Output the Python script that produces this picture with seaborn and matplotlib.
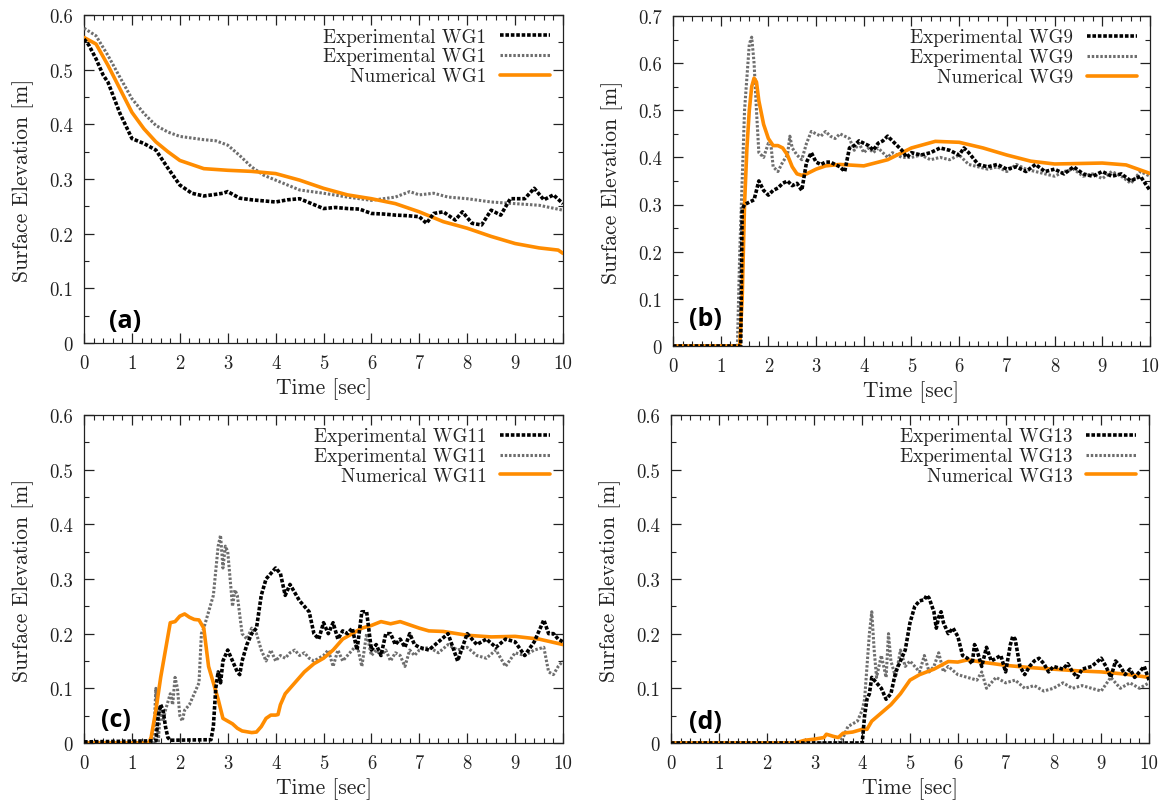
import matplotlib
matplotlib.use("Agg")
import matplotlib.pyplot as plt
from matplotlib.ticker import MultipleLocator, FixedLocator, FixedFormatter
import seaborn as sns
import pandas as pd

# ---------------- data ----------------
# (a) WG1
t_a_exp1 = [0, 0.1, 0.25, 0.4, 0.5, 0.75, 1.0, 1.25, 1.5, 1.75, 2.0, 2.25, 2.5, 2.75, 2.9, 3.0, 3.25, 3.5,
            3.75, 4.0, 4.25, 4.5, 4.75, 5.0, 5.25, 5.5, 5.75, 6.0, 6.25, 6.5, 6.75, 7.0, 7.15, 7.3, 7.5,
            7.75, 7.9, 8.1, 8.3, 8.5, 8.7, 8.9, 9.2, 9.4, 9.6, 9.8, 10.0]
y_a_exp1 = [0.556, 0.545, 0.52, 0.49, 0.477, 0.42, 0.374, 0.365, 0.353, 0.32, 0.289, 0.274, 0.269, 0.272,
            0.274, 0.277, 0.265, 0.262, 0.26, 0.258, 0.262, 0.264, 0.255, 0.246, 0.248, 0.246, 0.245, 0.237,
            0.236, 0.234, 0.233, 0.231, 0.219, 0.237, 0.24, 0.225, 0.24, 0.219, 0.216, 0.243, 0.234, 0.264,
            0.264, 0.283, 0.262, 0.271, 0.255]
t_a_exp2 = [0, 0.25, 0.5, 0.75, 1.0, 1.25, 1.5, 1.75, 2.0, 2.5, 2.75, 3.0, 3.25, 3.5, 3.75, 4.0, 4.5, 5.0,
            5.5, 6.0, 6.5, 6.8, 7.0, 7.3, 7.6, 8.0, 8.5, 9.0, 9.5, 10.0]
y_a_exp2 = [0.576, 0.562, 0.526, 0.486, 0.447, 0.42, 0.398, 0.386, 0.378, 0.372, 0.37, 0.362, 0.343, 0.322,
            0.307, 0.298, 0.28, 0.274, 0.267, 0.261, 0.267, 0.277, 0.271, 0.274, 0.267, 0.264, 0.258, 0.255,
            0.252, 0.243]
t_a_num = [0, 0.25, 0.5, 0.75, 1.0, 1.25, 1.5, 1.75, 2.0, 2.5, 3.0, 3.5, 4.0, 4.5, 5.0, 5.5, 6.0, 6.5, 7.0,
           7.5, 8.0, 8.5, 9.0, 9.5, 9.9, 10.0]
y_a_num = [0.559, 0.547, 0.508, 0.465, 0.422, 0.392, 0.368, 0.35, 0.334, 0.319, 0.316, 0.314, 0.31, 0.298,
           0.283, 0.271, 0.264, 0.255, 0.24, 0.222, 0.21, 0.195, 0.182, 0.174, 0.17, 0.164]

# (b) WG9
t_b_exp1 = [0, 1.42, 1.45, 1.5, 1.6, 1.7, 1.8, 1.9, 2.0, 2.1, 2.2, 2.3, 2.4, 2.5, 2.6, 2.7, 2.8, 2.9, 3.0,
            3.1, 3.2, 3.3, 3.4, 3.5, 3.6, 3.7, 3.8, 3.9, 4.0, 4.1, 4.2, 4.3, 4.4, 4.5, 4.6, 4.7, 4.8, 4.9,
            5.0, 5.2, 5.4, 5.6, 5.8, 6.0, 6.1, 6.2, 6.4, 6.6, 6.8, 7.0, 7.2, 7.4, 7.6, 7.8, 8.0, 8.2, 8.4,
            8.6, 8.8, 9.0, 9.2, 9.4, 9.6, 9.8, 10.0]
y_b_exp1 = [0, 0, 0.29, 0.30, 0.305, 0.31, 0.35, 0.33, 0.32, 0.33, 0.335, 0.345, 0.35, 0.34, 0.345, 0.33,
            0.39, 0.41, 0.39, 0.385, 0.39, 0.39, 0.385, 0.38, 0.37, 0.42, 0.425, 0.435, 0.43, 0.425, 0.415,
            0.43, 0.435, 0.445, 0.435, 0.425, 0.415, 0.40, 0.41, 0.405, 0.41, 0.42, 0.415, 0.405, 0.42, 0.41,
            0.385, 0.38, 0.385, 0.375, 0.38, 0.37, 0.385, 0.37, 0.375, 0.365, 0.38, 0.365, 0.36, 0.37, 0.36,
            0.365, 0.35, 0.36, 0.33]
t_b_exp2 = [0, 1.35, 1.4, 1.5, 1.6, 1.65, 1.7, 1.75, 1.8, 1.9, 2.0, 2.05, 2.1, 2.2, 2.3, 2.4, 2.45, 2.5,
            2.6, 2.7, 2.8, 2.9, 3.0, 3.1, 3.2, 3.3, 3.4, 3.5, 3.6, 3.7, 3.8, 3.9, 4.0, 4.1, 4.2, 4.3, 4.4,
            4.5, 4.6, 4.8, 5.0, 5.2, 5.4, 5.6, 5.8, 6.0, 6.2, 6.4, 6.6, 6.8, 7.0, 7.2, 7.4, 7.6, 7.8, 8.0,
            8.2, 8.4, 8.6, 8.8, 9.0, 9.2, 9.4, 9.6, 9.8, 10.0]
y_b_exp2 = [0, 0, 0.2, 0.5, 0.64, 0.655, 0.6, 0.5, 0.41, 0.40, 0.43, 0.43, 0.38, 0.37, 0.39, 0.405, 0.445,
            0.42, 0.405, 0.395, 0.43, 0.455, 0.45, 0.445, 0.455, 0.445, 0.44, 0.45, 0.445, 0.44, 0.415, 0.43,
            0.41, 0.42, 0.41, 0.42, 0.41, 0.40, 0.41, 0.40, 0.40, 0.405, 0.395, 0.40, 0.395, 0.405, 0.385,
            0.38, 0.375, 0.38, 0.37, 0.385, 0.375, 0.37, 0.365, 0.36, 0.37, 0.375, 0.36, 0.365, 0.355, 0.37,
            0.36, 0.345, 0.37, 0.36]
t_b_num = [0, 1.4, 1.45, 1.5, 1.55, 1.6, 1.65, 1.7, 1.75, 1.8, 1.9, 2.0, 2.1, 2.2, 2.3, 2.4, 2.5, 2.6, 2.7,
           2.8, 3.0, 3.2, 3.5, 4.0, 4.5, 5.0, 5.5, 6.0, 6.5, 7.0, 7.5, 8.0, 8.5, 9.0, 9.5, 10.0]
y_b_num = [0, 0, 0.1, 0.3, 0.42, 0.5, 0.55, 0.568, 0.56, 0.52, 0.47, 0.44, 0.425, 0.425, 0.42, 0.405, 0.38,
           0.365, 0.362, 0.365, 0.375, 0.382, 0.385, 0.382, 0.395, 0.42, 0.434, 0.432, 0.42, 0.405, 0.392,
           0.386, 0.387, 0.388, 0.384, 0.366]

# (c) WG11
t_c_exp1 = [0, 1.5, 1.55, 1.6, 1.65, 1.7, 1.75, 1.8, 2.65, 2.7, 2.75, 2.8, 2.85, 2.9, 3.0, 3.05, 3.1, 3.2,
            3.25, 3.3, 3.4, 3.5, 3.6, 3.7, 3.8, 3.9, 4.0, 4.1, 4.2, 4.3, 4.4, 4.5, 4.6, 4.7, 4.8, 4.9, 5.0,
            5.1, 5.2, 5.3, 5.4, 5.5, 5.6, 5.7, 5.8, 5.9, 6.0, 6.1, 6.2, 6.3, 6.4, 6.5, 6.6, 6.7, 6.8, 6.9,
            7.0, 7.2, 7.4, 7.6, 7.8, 8.0, 8.2, 8.4, 8.6, 8.8, 9.0, 9.2, 9.4, 9.6, 9.7, 9.8, 9.9, 10.0]
y_c_exp1 = [0.002, 0.004, 0.05, 0.07, 0.06, 0.03, 0.01, 0.005, 0.006, 0.03, 0.10, 0.13, 0.11, 0.15, 0.17,
            0.16, 0.15, 0.13, 0.125, 0.15, 0.18, 0.20, 0.21, 0.27, 0.30, 0.31, 0.32, 0.31, 0.27, 0.29, 0.275,
            0.26, 0.25, 0.24, 0.20, 0.19, 0.22, 0.20, 0.22, 0.19, 0.205, 0.20, 0.21, 0.17, 0.24, 0.24, 0.17,
            0.18, 0.16, 0.20, 0.20, 0.18, 0.19, 0.175, 0.20, 0.18, 0.175, 0.17, 0.185, 0.20, 0.15, 0.20, 0.18,
            0.19, 0.175, 0.19, 0.185, 0.16, 0.185, 0.225, 0.20, 0.20, 0.19, 0.185]
t_c_exp2 = [0, 1.45, 1.5, 1.55, 1.6, 1.65, 1.7, 1.8, 1.85, 1.9, 1.95, 2.0, 2.05, 2.1, 2.2, 2.3, 2.4, 2.45,
            2.5, 2.6, 2.7, 2.8, 2.85, 2.9, 2.95, 3.0, 3.1, 3.15, 3.2, 3.3, 3.4, 3.5, 3.6, 3.7, 3.8, 3.9,
            4.0, 4.1, 4.2, 4.3, 4.4, 4.5, 4.6, 4.7, 4.8, 4.9, 5.0, 5.1, 5.2, 5.3, 5.4, 5.5, 5.6, 5.7, 5.8,
            5.9, 6.0, 6.1, 6.2, 6.3, 6.4, 6.5, 6.6, 6.7, 6.8, 6.9, 7.0, 7.2, 7.4, 7.6, 7.8, 8.0, 8.2, 8.4,
            8.6, 8.8, 9.0, 9.2, 9.4, 9.6, 9.7, 9.8, 9.9, 10.0]
y_c_exp2 = [0, 0, 0.10, 0.0, 0.07, 0.04, 0.06, 0.09, 0.07, 0.12, 0.10, 0.05, 0.04, 0.06, 0.07, 0.09, 0.11,
            0.20, 0.21, 0.24, 0.27, 0.36, 0.38, 0.32, 0.36, 0.35, 0.25, 0.28, 0.27, 0.20, 0.19, 0.21, 0.20,
            0.17, 0.15, 0.17, 0.15, 0.16, 0.155, 0.165, 0.17, 0.16, 0.165, 0.155, 0.15, 0.155, 0.16, 0.17,
            0.14, 0.17, 0.15, 0.16, 0.17, 0.18, 0.14, 0.20, 0.16, 0.17, 0.16, 0.17, 0.15, 0.165, 0.16, 0.14,
            0.17, 0.16, 0.17, 0.175, 0.165, 0.18, 0.17, 0.175, 0.16, 0.155, 0.17, 0.14, 0.165, 0.16, 0.17,
            0.175, 0.13, 0.125, 0.14, 0.15]
t_c_num = [0, 1.35, 1.4, 1.5, 1.6, 1.7, 1.8, 1.9, 2.0, 2.1, 2.2, 2.3, 2.4, 2.5, 2.6, 2.7, 2.8, 2.9, 3.0,
           3.1, 3.2, 3.3, 3.5, 3.6, 3.7, 3.8, 3.9, 4.0, 4.05, 4.1, 4.2, 4.4, 4.6, 4.8, 5.0, 5.2, 5.4, 5.6,
           5.8, 6.0, 6.2, 6.4, 6.6, 6.8, 7.0, 7.2, 7.5, 8.0, 8.5, 9.0, 9.5, 10.0]
y_c_num = [0, 0, 0.01, 0.06, 0.12, 0.17, 0.22, 0.222, 0.232, 0.236, 0.23, 0.226, 0.225, 0.21, 0.14, 0.11,
           0.08, 0.045, 0.04, 0.035, 0.027, 0.022, 0.019, 0.02, 0.03, 0.045, 0.051, 0.051, 0.052, 0.07, 0.09,
           0.11, 0.13, 0.145, 0.155, 0.17, 0.19, 0.20, 0.21, 0.215, 0.222, 0.218, 0.222, 0.216, 0.21, 0.205,
           0.204, 0.197, 0.194, 0.195, 0.19, 0.18]

# (d) WG13
t_d_exp1 = [0, 4.0, 4.05, 4.1, 4.15, 4.2, 4.3, 4.4, 4.5, 4.6, 4.7, 4.8, 4.9, 5.0, 5.1, 5.2, 5.3, 5.35, 5.4,
            5.5, 5.55, 5.6, 5.65, 5.7, 5.8, 5.9, 6.0, 6.1, 6.2, 6.3, 6.35, 6.4, 6.5, 6.6, 6.7, 6.8, 6.9, 7.0,
            7.1, 7.15, 7.2, 7.3, 7.4, 7.5, 7.6, 7.7, 7.8, 7.9, 8.0, 8.2, 8.3, 8.4, 8.5, 8.6, 8.8, 9.0, 9.1,
            9.2, 9.3, 9.4, 9.5, 9.6, 9.7, 9.8, 9.9, 10.0]
y_d_exp1 = [0, 0, 0.05, 0.08, 0.09, 0.12, 0.11, 0.10, 0.08, 0.09, 0.13, 0.15, 0.17, 0.22, 0.25, 0.26, 0.262,
            0.27, 0.265, 0.24, 0.21, 0.23, 0.24, 0.22, 0.20, 0.21, 0.195, 0.16, 0.155, 0.145, 0.18, 0.17,
            0.14, 0.175, 0.15, 0.155, 0.16, 0.13, 0.18, 0.195, 0.19, 0.14, 0.125, 0.14, 0.15, 0.155, 0.145,
            0.13, 0.14, 0.135, 0.145, 0.13, 0.12, 0.135, 0.14, 0.155, 0.14, 0.12, 0.15, 0.14, 0.125, 0.135,
            0.12, 0.13, 0.14, 0.115]
t_d_exp2 = [0, 3.5, 3.6, 3.7, 3.8, 3.9, 4.0, 4.05, 4.1, 4.15, 4.2, 4.25, 4.3, 4.4, 4.5, 4.55, 4.6, 4.7, 4.8,
            4.9, 5.0, 5.1, 5.2, 5.3, 5.4, 5.5, 5.6, 5.7, 5.8, 6.0, 6.2, 6.4, 6.5, 6.6, 6.8, 7.0, 7.2, 7.4,
            7.6, 7.8, 8.0, 8.2, 8.4, 8.6, 8.8, 9.0, 9.2, 9.4, 9.6, 9.8, 10.0]
y_d_exp2 = [0, 0, 0.01, 0.03, 0.035, 0.04, 0.06, 0.08, 0.14, 0.20, 0.24, 0.17, 0.12, 0.16, 0.12, 0.20, 0.15,
            0.12, 0.17, 0.14, 0.15, 0.14, 0.13, 0.16, 0.13, 0.14, 0.165, 0.13, 0.14, 0.125, 0.12, 0.115, 0.13,
            0.10, 0.12, 0.11, 0.115, 0.10, 0.105, 0.095, 0.10, 0.11, 0.10, 0.105, 0.10, 0.095, 0.12, 0.10,
            0.11, 0.10, 0.11]
t_d_num = [0, 2.6, 2.8, 3.0, 3.2, 3.25, 3.4, 3.5, 3.6, 3.8, 4.0, 4.1, 4.2, 4.4, 4.6, 4.8, 5.0, 5.2, 5.5,
           5.8, 6.0, 6.2, 6.5, 7.0, 7.5, 8.0, 8.5, 9.0, 9.5, 10.0]
y_d_num = [0, 0, 0.005, 0.007, 0.01, 0.016, 0.012, 0.01, 0.018, 0.02, 0.025, 0.025, 0.04, 0.055, 0.07, 0.09,
           0.115, 0.125, 0.135, 0.149, 0.148, 0.152, 0.148, 0.142, 0.138, 0.135, 0.132, 0.13, 0.126, 0.12]

panel_letters = ["(a)", "(b)", "(c)", "(d)"]
gauges = ["WG1", "WG9", "WG11", "WG13"]
y_max = [0.6, 0.7, 0.6, 0.6]
x_ticks = [0, 1, 2, 3, 4, 5, 6, 7, 8, 9, 10]
x_tick_labels = ["0", "1", "2", "3", "4", "5", "6", "7", "8", "9", "10"]
y_ticks = [0, 0.1, 0.2, 0.3, 0.4, 0.5, 0.6, 0.7]
y_tick_labels = ["0", "0.1", "0.2", "0.3", "0.4", "0.5", "0.6", "0.7"]

series = [
    (t_a_exp1, y_a_exp1, t_a_exp2, y_a_exp2, t_a_num, y_a_num),
    (t_b_exp1, y_b_exp1, t_b_exp2, y_b_exp2, t_b_num, y_b_num),
    (t_c_exp1, y_c_exp1, t_c_exp2, y_c_exp2, t_c_num, y_c_num),
    (t_d_exp1, y_d_exp1, t_d_exp2, y_d_exp2, t_d_num, y_d_num),
]

# ---------------- style ----------------
sns.set_style("ticks")
plt.rcParams["font.family"] = ["cmr10", "DejaVu Serif"]
plt.rcParams["axes.formatter.use_mathtext"] = True
plt.rcParams["font.size"] = 13.5

ORANGE = "#ff8c00"
INK = "#222222"

fig = plt.figure(figsize=(11.69, 8.03), dpi=100)
positions = [
    [0.0719, 0.5716, 0.4097, 0.4084],
    [0.5757, 0.5679, 0.4080, 0.4110],
    [0.0719, 0.0735, 0.4097, 0.4085],
    [0.5740, 0.0735, 0.4089, 0.4085],
]
letter_pos = [(0.086, 0.070), (0.067, 0.082), (0.067, 0.073), (0.071, 0.067)]

for i, pos in enumerate(positions):
    ax = fig.add_axes(pos)
    t1, v1, t2, v2, tn, vn = series[i]
    g = gauges[i]
    d1 = pd.DataFrame({"t": t1, "eta": v1})
    d2 = pd.DataFrame({"t": t2, "eta": v2})
    dn = pd.DataFrame({"t": tn, "eta": vn})

    sns.lineplot(data=d2, x="t", y="eta", ax=ax, color="#6e6e6e", lw=2.2,
                 linestyle=(0, (0.8, 0.6)), label=f"Experimental {g}", zorder=3, sort=False)
    sns.lineplot(data=dn, x="t", y="eta", ax=ax, color=ORANGE, lw=2.6,
                 label=f"Numerical {g}", zorder=4, sort=False)
    sns.lineplot(data=d1, x="t", y="eta", ax=ax, color="black", lw=2.6,
                 linestyle=(0, (1.0, 0.5)), label=f"Experimental {g}", zorder=5, sort=False)

    ax.set_xlim(0, 10)
    ax.set_ylim(0, y_max[i])
    n_y = int(round(y_max[i] / 0.1)) + 1
    ax.xaxis.set_major_locator(FixedLocator(x_ticks))
    ax.xaxis.set_major_formatter(FixedFormatter(x_tick_labels))
    ax.yaxis.set_major_locator(FixedLocator(y_ticks[:n_y]))
    ax.yaxis.set_major_formatter(FixedFormatter(y_tick_labels[:n_y]))
    ax.xaxis.set_minor_locator(MultipleLocator(0.2))
    ax.yaxis.set_minor_locator(MultipleLocator(0.05))
    ax.tick_params(which="both", direction="in", top=True, right=True, colors=INK,
                   labelsize=13.5, labelcolor=INK)
    ax.tick_params(which="major", length=7, width=0.9)
    ax.tick_params(which="minor", length=3.5, width=0.8)
    ax.tick_params(axis="x", which="major", pad=8)
    ax.tick_params(axis="y", which="major", pad=8)
    for s in ax.spines.values():
        s.set_linewidth(0.9)
        s.set_color(INK)
    ax.set_xlabel("Time [sec]", fontsize=15.5, labelpad=4, color=INK)
    ax.set_ylabel("Surface Elevation [m]", fontsize=15.5, labelpad=11, color=INK)

    handles, labels = ax.get_legend_handles_labels()
    order = [2, 0, 1]
    ax.legend([handles[k] for k in order], [labels[k] for k in order],
              loc="upper right", bbox_to_anchor=(0.972, 0.962), frameon=False,
              markerfirst=False, handlelength=2.6, handletextpad=0.7,
              labelspacing=0.1, borderpad=0, borderaxespad=0, fontsize=13.8,
              labelcolor=INK)

    ax.text(letter_pos[i][0], letter_pos[i][1], panel_letters[i], transform=ax.transAxes,
            fontsize=18, fontweight="bold", family=["Open Sans", "DejaVu Sans"],
            ha="center", va="center", color="black")

fig.savefig("out.png", dpi=100)
